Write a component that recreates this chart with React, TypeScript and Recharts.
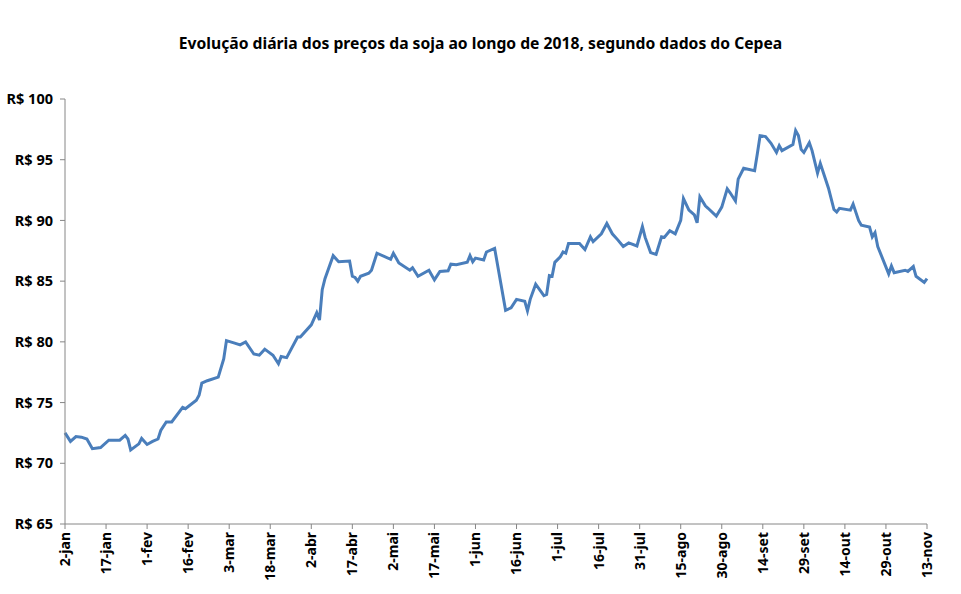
import { LineChart, Line, XAxis, YAxis } from "recharts";

// datas (dd/mm de 2018) e preços da saca de soja, em R$
const dates = [
  "02/01", "04/01", "06/01", "08/01", "10/01", "12/01", "15/01", "18/01", "19/01", "22/01",
  "24/01", "25/01", "26/01", "29/01", "30/01",
  "01/02", "03/02", "05/02", "06/02", "08/02", "10/02", "14/02", "15/02", "19/02", "20/02",
  "21/02", "23/02", "27/02",
  "01/03", "02/03", "05/03", "07/03", "09/03", "12/03", "14/03", "16/03", "19/03", "21/03",
  "22/03", "24/03", "28/03", "29/03",
  "02/04", "04/04", "05/04", "06/04", "07/04", "10/04", "12/04", "16/04", "17/04", "18/04",
  "19/04", "20/04", "23/04", "24/04", "26/04",
  "01/05", "02/05", "04/05", "08/05", "09/05", "11/05", "15/05", "17/05", "19/05", "22/05",
  "23/05", "25/05", "29/05", "30/05", "31/05",
  "01/06", "04/06", "05/06", "08/06", "12/06", "14/06", "16/06", "19/06", "20/06", "21/06",
  "23/06", "26/06", "27/06", "28/06", "29/06", "30/06",
  "02/07", "03/07", "04/07", "05/07", "09/07", "11/07", "13/07", "14/07", "17/07", "19/07",
  "21/07", "23/07", "25/07", "27/07", "30/07",
  "01/08", "02/08", "04/08", "06/08", "08/08", "09/08", "11/08", "13/08", "15/08", "16/08",
  "18/08", "20/08", "21/08", "22/08", "24/08", "25/08", "28/08", "30/08",
  "01/09", "02/09", "04/09", "05/09", "07/09", "11/09", "12/09", "13/09", "15/09", "17/09",
  "19/09", "20/09", "21/09", "25/09", "26/09", "27/09", "28/09", "29/09",
  "01/10", "02/10", "04/10", "05/10", "08/10", "10/10", "11/10", "12/10", "16/10", "17/10",
  "19/10", "20/10", "23/10", "24/10", "25/10", "26/10", "30/10", "31/10",
  "01/11", "05/11", "06/11", "08/11", "09/11", "12/11", "13/11",
];

const prices = [
  72.5, 71.8, 72.2, 72.15, 72.0, 71.2, 71.3, 71.9, 71.9, 71.9,
  72.3, 72.0, 71.1, 71.6, 72.05,
  71.55, 71.8, 72.0, 72.7, 73.4, 73.4, 74.6, 74.5, 75.2, 75.6,
  76.6, 76.8, 77.1,
  78.6, 80.1, 79.9, 79.75, 80.0, 79.0, 78.9, 79.4, 78.9, 78.2,
  78.8, 78.7, 80.4, 80.4,
  81.4, 82.4, 81.8, 84.3, 85.2, 87.1, 86.6, 86.65, 85.4, 85.3,
  85.0, 85.4, 85.65, 85.9, 87.3,
  86.8, 87.3, 86.5, 85.9, 86.1, 85.4, 85.9, 85.1, 85.8, 85.85,
  86.4, 86.35, 86.55, 87.1, 86.6,
  86.9, 86.75, 87.4, 87.7, 82.6, 82.8, 83.5, 83.35, 82.55, 83.5,
  84.75, 83.8, 83.9, 85.45, 85.4, 86.55,
  87.0, 87.4, 87.3, 88.1, 88.1, 87.6, 88.65, 88.25, 88.9, 89.75,
  88.9, 88.4, 87.85, 88.15, 87.9,
  89.5, 88.6, 87.35, 87.2, 88.65, 88.6, 89.15, 88.9, 90.0, 91.8,
  90.85, 90.45, 89.8, 91.95, 91.2, 91.0, 90.35, 91.1,
  92.6, 92.3, 91.6, 93.4, 94.3, 94.1, 95.5, 96.98, 96.9, 96.35,
  95.6, 96.15, 95.75, 96.25, 97.4, 97.0, 95.85, 95.6,
  96.4, 95.75, 93.9, 94.7, 92.65, 90.9, 90.7, 91.0, 90.85, 91.35,
  90.0, 89.6, 89.45, 88.65, 89.0, 87.85, 85.6, 86.25,
  85.7, 85.9, 85.8, 86.2, 85.4, 84.9, 85.2,
];

const monthNames = ["jan", "fev", "mar", "abr", "mai", "jun", "jul", "ago", "set", "out", "nov", "dez"];
const xTicks = [0, 15, 30, 45, 60, 75, 90, 105, 120, 135, 150, 165, 180, 195, 210, 225, 240, 255, 270, 285, 300, 315];
const yTicks = [65, 70, 75, 80, 85, 90, 95, 100];

const START = Date.UTC(2018, 0, 2);
const DAY = 86400000;

const toDay = (s: string) => {
  const [d, m] = s.split("/").map(Number);
  return Math.round((Date.UTC(2018, m - 1, d) - START) / DAY);
};

const dayLabel = (n: number) => {
  const dt = new Date(START + n * DAY);
  return `${dt.getUTCDate()}-${monthNames[dt.getUTCMonth()]}`;
};

const data = dates.map((d, i) => ({ day: toDay(d), preco: prices[i] }));

const FONT = "'Noto Sans', sans-serif";

const DateTick = (props: any) => {
  const { x, y, payload } = props;
  return (
    <text
      x={x}
      y={y}
      transform={`rotate(-90 ${x} ${y})`}
      textAnchor="end"
      dy="0.35em"
      fontSize={14}
      fontWeight="bold"
      fontFamily={FONT}
      fill="#000"
    >
      {dayLabel(payload.value)}
    </text>
  );
};

export default function App() {
  return (
    <div style={{ position: "absolute", left: 0, top: 0, width: 961, height: 594, background: "#fff" }}>
      <div
        style={{
          position: "absolute",
          top: 32,
          width: 961,
          textAlign: "center",
          fontFamily: FONT,
          fontWeight: "bold",
          fontSize: 15.7,
          color: "#000",
        }}
      >
        Evolução diária dos preços da soja ao longo de 2018, segundo dados do Cepea
      </div>
      <LineChart width={961} height={594} data={data} margin={{ top: 99, right: 34, bottom: 0, left: 0 }}>
        <XAxis
          dataKey="day"
          type="number"
          domain={[0, 315]}
          ticks={xTicks}
          interval={0}
          tick={<DateTick />}
          tickSize={5}
          tickMargin={3}
          height={70}
          stroke="#868686"
        />
        <YAxis
          type="number"
          domain={[65, 100]}
          ticks={yTicks}
          interval={0}
          width={65}
          tickSize={5}
          tickMargin={7}
          tickFormatter={(v: number) => `R$ ${v}`}
          tick={{ fontSize: 14.5, fontWeight: "bold", fontFamily: FONT, fill: "#000" }}
          stroke="#868686"
        />
        <Line
          type="linear"
          dataKey="preco"
          stroke="#4a7ebb"
          strokeWidth={3}
          dot={false}
          isAnimationActive={false}
        />
      </LineChart>
    </div>
  );
}
